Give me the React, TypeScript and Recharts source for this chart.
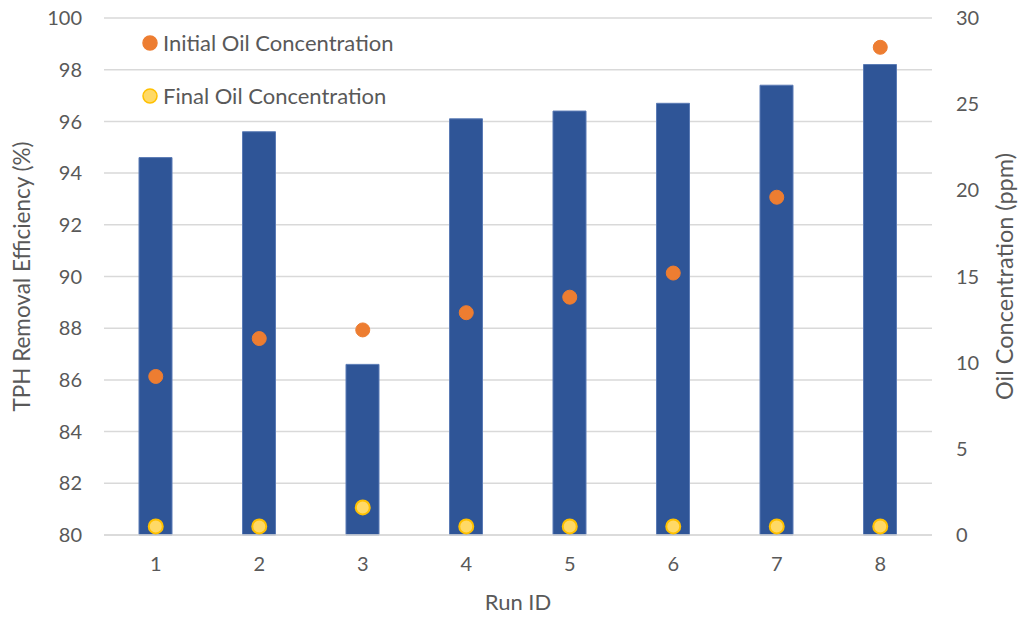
import {
  ComposedChart,
  Bar,
  Line,
  XAxis,
  YAxis,
  CartesianGrid,
} from 'recharts'

const runIds = ['1', '2', '3', '4', '5', '6', '7', '8']
const removalEfficiency = [94.6, 95.6, 86.6, 96.1, 96.4, 96.7, 97.4, 98.2]
const initialOil = [9.2, 11.4, 11.9, 12.9, 13.8, 15.2, 19.6, 28.3]
const finalOil = [0.5, 0.5, 1.6, 0.5, 0.5, 0.5, 0.5, 0.5]

const leftTicks = [80, 82, 84, 86, 88, 90, 92, 94, 96, 98, 100]
const rightTicks = [0, 5, 10, 15, 20, 25, 30]

const textColor = '#595959'
const font = 'Lato, "Open Sans", sans-serif'

const chartData = runIds.map((id, i) => ({
  id,
  efficiency: removalEfficiency[i],
  initial: initialOil[i],
  final: finalOil[i],
}))

const legendItems = [
  { label: 'Initial Oil Concentration', fill: '#ED7D31', stroke: '#ED7D31' },
  { label: 'Final Oil Concentration', fill: '#FFD966', stroke: '#FFC000' },
]

export default function App() {
  return (
    <div style={{ position: 'absolute', left: 0, top: 0, width: 1023, height: 620, background: '#fff' }}>
      <ComposedChart
        width={1023}
        height={620}
        data={chartData}
        margin={{ top: 18, right: 26, left: 24, bottom: 40 }}
        barSize={33}
      >
        <CartesianGrid
          yAxisId="left"
          vertical={false}
          stroke="#D9D9D9"
          strokeWidth={1.5}
        />
        <XAxis
          dataKey="id"
          tick={{ fill: textColor, fontSize: 20, fontFamily: font, dy: 14 }}
          tickLine={false}
          axisLine={{ stroke: '#D9D9D9', strokeWidth: 1.5 }}
          height={45}
          label={{
            value: 'Run ID',
            position: 'insideBottom',
            offset: -30,
            fill: textColor,
            fontSize: 22,
            fontFamily: font,
          }}
        />
        <YAxis
          yAxisId="left"
          domain={[80, 100]}
          ticks={leftTicks}
          interval={0}
          width={80}
          tick={{ fill: textColor, fontSize: 20, fontFamily: font, dx: -14 }}
          tickLine={false}
          axisLine={false}
          label={{
            value: 'TPH Removal Efficiency (%)',
            angle: -90,
            position: 'insideLeft',
            offset: -2,
            style: { textAnchor: 'middle' },
            fill: textColor,
            fontSize: 22.5,
            fontFamily: font,
          }}
        />
        <YAxis
          yAxisId="right"
          orientation="right"
          domain={[0, 30]}
          ticks={rightTicks}
          interval={0}
          width={65}
          tick={{ fill: textColor, fontSize: 20, fontFamily: font, dx: 16 }}
          tickLine={false}
          axisLine={false}
          label={{
            value: 'Oil Concentration (ppm)',
            angle: -90,
            position: 'insideRight',
            offset: -8,
            style: { textAnchor: 'middle' },
            fill: textColor,
            fontSize: 23.5,
            fontFamily: font,
          }}
        />
        <Bar
          yAxisId="left"
          dataKey="efficiency"
          fill="#2F5597"
          stroke="#5B7BB5"
          strokeWidth={1}
          isAnimationActive={false}
        />
        <Line
          yAxisId="right"
          dataKey="initial"
          stroke="none"
          dot={{ r: 7, fill: '#ED7D31', stroke: '#ED7D31', strokeWidth: 1 }}
          activeDot={false}
          isAnimationActive={false}
        />
        <Line
          yAxisId="right"
          dataKey="final"
          stroke="none"
          dot={{ r: 7, fill: '#FFD966', stroke: '#FFC000', strokeWidth: 2 }}
          activeDot={false}
          isAnimationActive={false}
        />
      </ComposedChart>
      <div
        style={{
          position: 'absolute',
          left: 140,
          top: 16,
          fontFamily: font,
          fontSize: 22,
          color: textColor,
        }}
      >
        {legendItems.map(item => (
          <div key={item.label} style={{ display: 'flex', alignItems: 'center', height: 53 }}>
            <svg width={20} height={20} style={{ marginRight: 3 }}>
              <circle cx={10} cy={10} r={7} fill={item.fill} stroke={item.stroke} strokeWidth={1.5} />
            </svg>
            {item.label}
          </div>
        ))}
      </div>
    </div>
  )
}
